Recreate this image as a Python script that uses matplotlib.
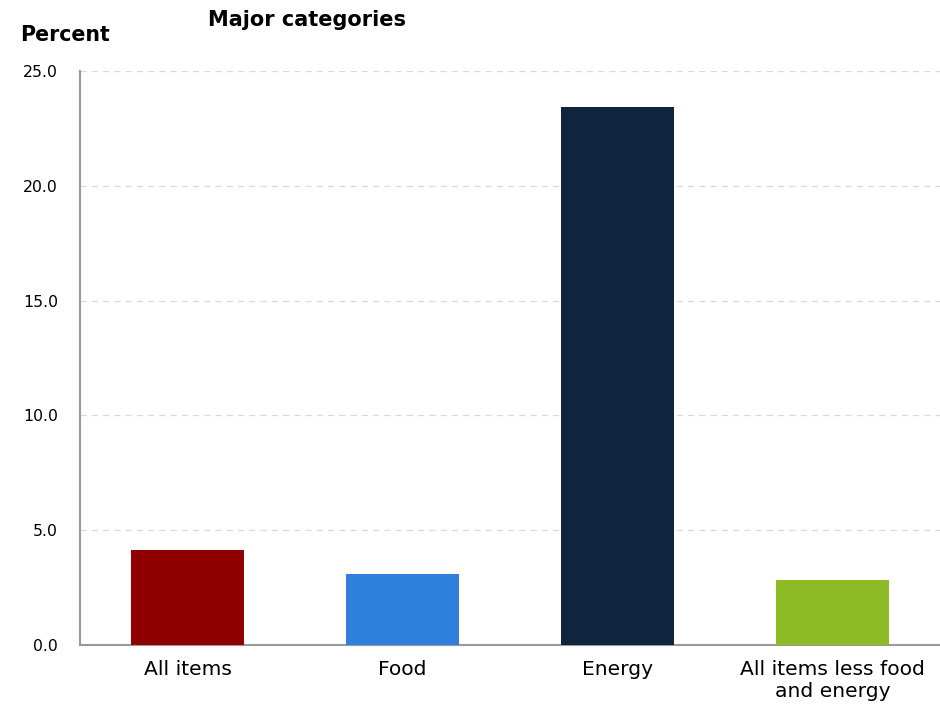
import matplotlib
matplotlib.use("Agg")
import matplotlib.pyplot as plt

categories = ["All items", "Food", "Energy", "All items less food\nand energy"]
values = [4.15, 3.1, 23.45, 2.85]
colors = ["#900000", "#2F80DD", "#0F243D", "#8DBB25"]
yticks = [0.0, 5.0, 10.0, 15.0, 20.0, 25.0]

plt.rcParams['font.family'] = ['DejaVu Sans']
fig = plt.figure(figsize=(9.4, 7.05), dpi=100)
ax = fig.add_axes([80/940, 60/705, 860/940, 574/705])

x = list(range(len(categories)))
ax.bar(x, values, width=0.526, color=colors, zorder=3)
ax.set_xlim(-0.5, 3.5)
ax.set_ylim(0, 25)
ax.set_yticks(yticks)
ax.set_yticklabels([f"{v:.1f}" for v in yticks], fontsize=11.3)
ax.set_xticks(x)
ax.set_xticklabels(categories, fontsize=14.6, linespacing=1.2)
ax.tick_params(axis='y', length=0, pad=16)
ax.tick_params(axis='x', length=0, pad=11)
ax.yaxis.grid(True, linestyle=(0, (5, 4)), color="#D9D9D9", linewidth=0.9, zorder=0)
ax.xaxis.grid(False)
for s in ["top", "right"]:
    ax.spines[s].set_visible(False)
for s in ["left", "bottom"]:
    ax.spines[s].set_color("#999999")
    ax.spines[s].set_linewidth(1.5)

fig.text(20/940, 1 - 35/705, "Percent", fontsize=14.8, fontweight="bold", ha="left", va="center")
fig.text(307/940, 1 - 20/705, "Major categories", fontsize=15, fontweight="bold", ha="center", va="center")

fig.savefig("out.png", dpi=100)
